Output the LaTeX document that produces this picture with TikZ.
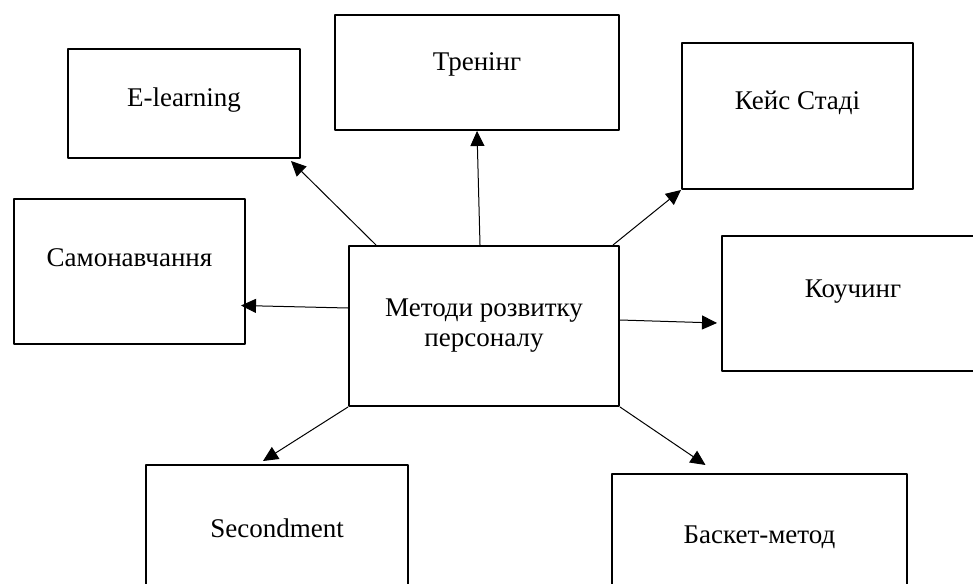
\documentclass[tikz,border=0pt]{standalone}
\usepackage{fontspec}
\setmainfont{Liberation Serif}
\usetikzlibrary{arrows.meta}

\begin{document}
\begin{tikzpicture}[x=0.5pt, y=-0.5pt, font=\fontsize{13.5}{15}\selectfont, line join=round,
	blok/.style={draw, line width=1pt, inner sep=0pt},
	txt/.style={text height=10pt, text depth=#1},
	strilka/.style={-{Triangle[length=7.5pt,width=7pt]}, line width=0.5pt}]
	\useasboundingbox (0,0) rectangle (973,583);
	\clip (0,0) rectangle (973,583);
	% центральний блок
	\node[blok, minimum width=135pt, minimum height=80pt, align=center] (ctr) at (484,326) {Методи розвитку\\персоналу};
	% методи
	\node[blok, txt=7.5pt, minimum width=116pt, minimum height=54.5pt] (elearn) at (184,103.5) {E-learning};
	\node[blok, txt=11.5pt, minimum width=142pt, minimum height=57.5pt] (train) at (477,72.5) {Тренінг};
	\node[blok, txt=16pt, minimum width=115.5pt, minimum height=73pt] (case) at (797.5,116) {Кейс Стаді};
	\node[blok, txt=15.5pt, minimum width=115.5pt, minimum height=72.5pt] (self) at (129.5,271.5) {Самонавчання};
	\node[blok, txt=16.5pt, minimum width=131pt, minimum height=67.5pt] (coach) at (853,303.5) {Коучинг};
	\node[blok, txt=10.5pt, minimum width=131pt, minimum height=72.5pt] (second) at (277,537.5) {Secondment};
	\node[blok, txt=9pt, minimum width=147.5pt, minimum height=68pt] (basket) at (759.5,542) {Баскет-метод};
	% стрілки
	\draw[strilka] ([xshift=14pt]ctr.north west) -- ([xshift=-5pt,yshift=-1pt]elearn.south east);
	\draw[strilka] ([xshift=-2pt]ctr.north) -- (train.south);
	\draw[strilka] ([xshift=-3.5pt]ctr.north east) -- (case.south west);
	\draw[strilka] ([yshift=9pt]ctr.west) -- ([xshift=-2.5pt,yshift=-17pt]self.east);
	\draw[strilka] ([yshift=3pt]ctr.east) -- ([xshift=-2pt,yshift=-9.75pt]coach.west);
	\draw[strilka] (ctr.south west) -- ([xshift=-7pt,yshift=1.5pt]second.north);
	\draw[strilka] (ctr.south east) -- ([xshift=-27pt,yshift=4pt]basket.north);
\end{tikzpicture}
\end{document}
